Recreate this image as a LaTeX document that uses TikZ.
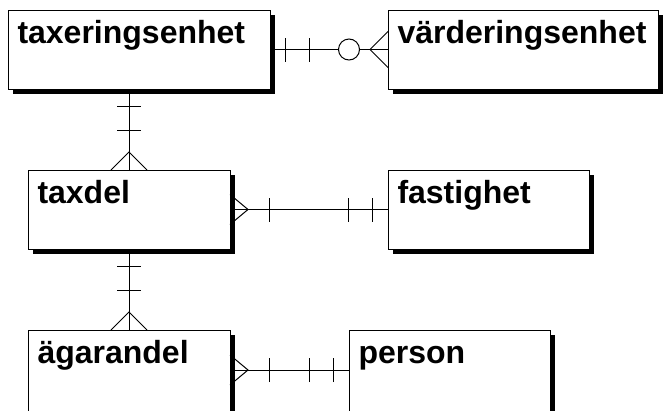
\documentclass[tikz,border=0pt]{standalone}
\usepackage{fontspec}
\newfontfamily\erfont{Liberation Sans}
\usetikzlibrary{shadows,decorations.markings}

\tikzset{
  tick at/.style={postaction={decorate,decoration={markings,
      mark=at position #1 with {\draw (0,-12pt) -- (0,12pt);}}}},
  ring at/.style={postaction={decorate,decoration={markings,
      mark=at position #1 with {\draw[fill=white] (0,0) circle (10.5pt);}}}},
  crow end/.style={postaction={decorate,decoration={markings,
      mark=at position -18pt with {\draw (18pt,-18pt) -- (0,0) -- (18pt,18pt);}}}},
  crow start/.style={postaction={decorate,decoration={markings,
      mark=at position 18pt with {\draw (-18pt,-15pt) -- (0,0) -- (-18pt,15pt);}}}}
}

\begin{document}
\begin{tikzpicture}[x=1pt,y=-1pt,line width=1pt]
  \tikzstyle{entity}=[draw,rectangle,fill=white,anchor=north west,inner sep=0pt,
    outer sep=0pt,minimum height=79pt,
    drop shadow={shadow xshift=4.5pt,shadow yshift=-4.5pt,opacity=1,fill=black}]
  \tikzstyle{enttext}=[anchor=base west,inner sep=0pt,xshift=9pt,yshift=-33pt,
    font=\erfont\bfseries\fontsize{32}{32}\selectfont]
  \useasboundingbox (0,0) rectangle (663,410);

  \node[entity,minimum width=262pt,label={[enttext]north west:taxeringsenhet}]  (tax)    at (8,10)    {};
  \node[entity,minimum width=270pt,label={[enttext]north west:värderingsenhet}] (vard)   at (388,10)  {};
  \node[entity,minimum width=202pt,label={[enttext]north west:taxdel}]          (taxdel) at (28,170)  {};
  \node[entity,minimum width=201pt,label={[enttext]north west:fastighet}]       (fast)   at (388,170) {};
  \node[entity,minimum width=202pt,minimum height=90pt,label={[enttext]north west:ägarandel}] (agar) at (28,330) {};
  \node[entity,minimum width=201pt,minimum height=90pt,label={[enttext]north west:person}] (person) at (349,330) {};

  % relationships
  \draw[tick at=15pt,tick at=39pt,ring at=79pt,crow end] (tax.east) -- (vard.west);
  \draw[tick at=17pt,tick at=41pt,crow end] (taxdel.north |- tax.south) -- (taxdel.north);
  \draw[crow start,tick at=39pt,tick at=-40pt,tick at=-16pt] (taxdel.east) -- (fast.west);
  \draw[tick at=17pt,tick at=41pt,crow end] (taxdel.south) -- (agar.north);
  \draw[crow start,tick at=39pt,tick at=-40pt,tick at=-16pt] ([yshift=5pt]agar.east) -- ([yshift=5pt]person.west);
\end{tikzpicture}
\end{document}
